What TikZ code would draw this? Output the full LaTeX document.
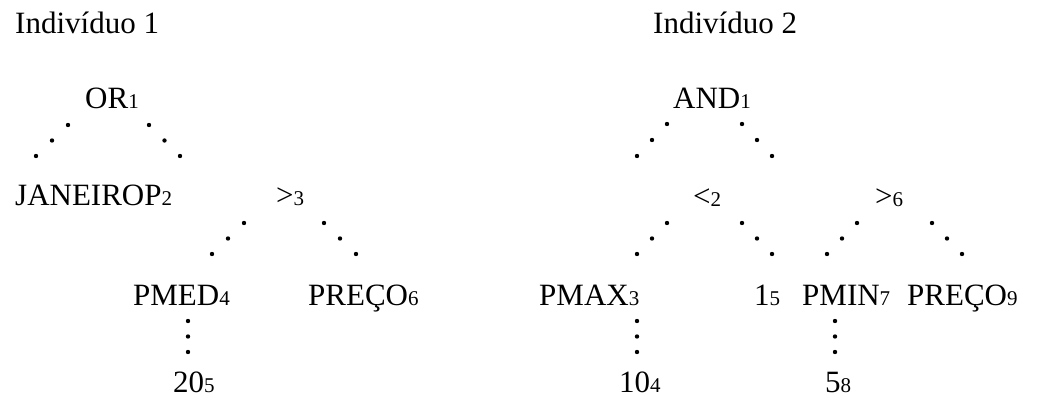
\documentclass[tikz,border=0pt]{standalone}
\usepackage{fontspec}
\setmainfont{Liberation Serif}
\newcommand\subidx[1]{{\fontsize{21}{25}\selectfont #1}}
\newcommand\threedots[2]{\path (#1) -- (#2) node[dotmark,pos=0]{} node[dotmark,pos=0.5]{} node[dotmark,pos=1]{};}
\tikzset{
  lbl/.style={anchor=base west, inner sep=0pt, font=\fontsize{31}{37}\selectfont},
  dotmark/.style={circle, fill=black, inner sep=0pt, minimum size=4.4pt}
}
\begin{document}
\begin{tikzpicture}[x=1pt,y=-1pt]
\useasboundingbox (0,0) rectangle (1058,396);
% titles
\node[lbl] (ind1) at (15,34) {Indivíduo 1};
\node[lbl] (ind2) at (653,34) {Indivíduo 2};
% tree 1
\node[lbl] (or) at (85,108) {OR\subidx{1}};
\node[lbl] (jan) at (15,205) {JANEIROP\subidx{2}};
\node[lbl] (gt3) at (276,205) {>\subidx{3}};
\node[lbl] (pmed) at (133,305) {PMED\subidx{4}};
\node[lbl] (preco6) at (308,305) {PREÇO\subidx{6}};
\node[lbl] (v20) at (173,392) {20\subidx{5}};
\coordinate (a1) at (68,125);  \coordinate (b1) at (36,156);
\coordinate (a2) at (149,125); \coordinate (b2) at (180,156);
\coordinate (a3) at (244,223); \coordinate (b3) at (212,254);
\coordinate (a4) at (324,223); \coordinate (b4) at (356,254);
\coordinate (a5) at (188,321); \coordinate (b5) at (188,352);
\threedots{a1}{b1}
\threedots{a2}{b2}
\threedots{a3}{b3}
\threedots{a4}{b4}
\threedots{a5}{b5}
% tree 2
\node[lbl] (and) at (673,108) {AND\subidx{1}};
\node[lbl] (lt2) at (693,206) {<\subidx{2}};
\node[lbl] (gt6) at (875,206) {>\subidx{6}};
\node[lbl] (pmax) at (539,305) {PMAX\subidx{3}};
\node[lbl] (one) at (754,305) {1\subidx{5}};
\node[lbl] (pmin) at (802,305) {PMIN\subidx{7}};
\node[lbl] (preco9) at (907,305) {PREÇO\subidx{9}};
\node[lbl] (v10) at (619,392) {10\subidx{4}};
\node[lbl] (v5) at (825,392) {5\subidx{8}};
\coordinate (a6) at (667,124);  \coordinate (b6) at (637,156);
\coordinate (a7) at (742,124);  \coordinate (b7) at (772,156);
\coordinate (a8) at (667,223);  \coordinate (b8) at (637,254);
\coordinate (a9) at (742,223);  \coordinate (b9) at (772,254);
\coordinate (a10) at (857,223); \coordinate (b10) at (827,254);
\coordinate (a11) at (932,223); \coordinate (b11) at (962,254);
\coordinate (a12) at (637,321); \coordinate (b12) at (637,352);
\coordinate (a13) at (835,321); \coordinate (b13) at (835,352);
\threedots{a6}{b6}
\threedots{a7}{b7}
\threedots{a8}{b8}
\threedots{a9}{b9}
\threedots{a10}{b10}
\threedots{a11}{b11}
\threedots{a12}{b12}
\threedots{a13}{b13}
\end{tikzpicture}
\end{document}
